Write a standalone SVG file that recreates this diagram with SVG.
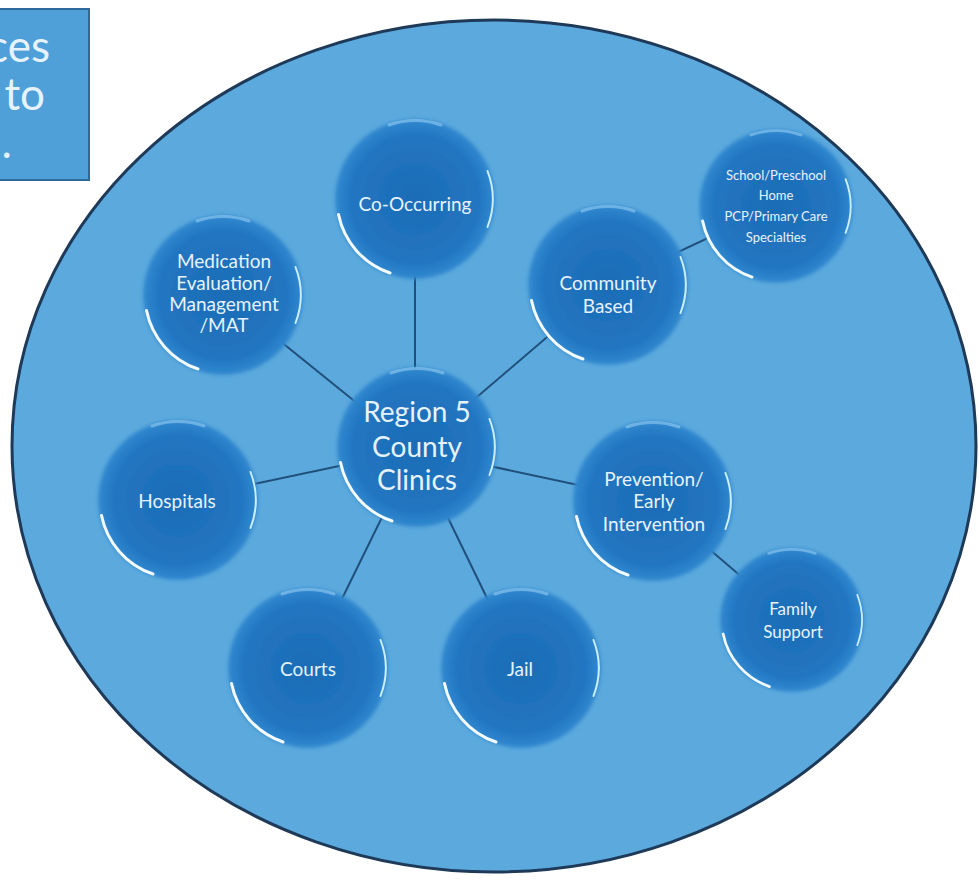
<svg xmlns="http://www.w3.org/2000/svg" xmlns:xlink="http://www.w3.org/1999/xlink" width="979" height="888" viewBox="0 0 979 888">
  <style>
    .lbl { font-family: Lato, "Open Sans", "Liberation Sans", sans-serif; fill: #e6f3ff; text-anchor: middle; }
    .big { font-size: 28px; }
    .mid { font-size: 19px; }
    .fam { font-size: 17px; }
    .small { font-size: 13px; }
    .conn { stroke: #1f4f7a; stroke-width: 2; fill: none; }
  </style>
  <defs>
    <radialGradient id="diskFill" cx="0.5" cy="0.5" r="0.5">
      <stop offset="0" stop-color="#1d6cb6"/>
      <stop offset="0.8" stop-color="#2175c0"/>
      <stop offset="1" stop-color="#3088cf"/>
    </radialGradient>
    <filter id="soft" x="-20%" y="-20%" width="140%" height="140%">
      <feGaussianBlur stdDeviation="1.6"/>
    </filter>
    <!-- bubble drawn at the origin with radius 80 -->
    <g id="bubble">
      <circle r="81" fill="#3d8fd0" opacity="0.5" filter="url(#soft)"/>
      <circle r="79" fill="url(#diskFill)" filter="url(#soft)"/>
      <path d="M -76.5 15.5 A 78 78 0 0 0 -25 74" stroke="#f2fbff" stroke-width="3" fill="none" stroke-linecap="round"/>
      <path d="M 72.5 -28 A 78 78 0 0 1 72.5 28" stroke="#c9efff" stroke-width="2" fill="none" stroke-linecap="round"/>
      <path d="M -26 -74 A 79 79 0 0 1 26 -74" stroke="#8fcaf2" stroke-width="3" fill="none" opacity="0.6" stroke-linecap="round"/>
    </g>
  </defs>

  <rect width="979" height="888" fill="#ffffff"/>

  <!-- partial title box at the top-left corner -->
  <g id="title-box">
    <rect x="-4" y="9" width="93" height="171" fill="#4f9fd8" stroke="#2d6a9a" stroke-width="2"/>
    <text class="lbl" x="0" y="62" style="font-size:44px;text-anchor:end" dx="50">ces</text>
    <text class="lbl" x="0" y="110" style="font-size:44px;text-anchor:end" dx="45">to</text>
    <text class="lbl" x="0" y="158" style="font-size:44px;text-anchor:end" dx="12">.</text>
  </g>

  <!-- large background ellipse -->
  <g id="region">
    <ellipse cx="494" cy="446" rx="482" ry="426" fill="#5ba9dd" stroke="#1e3a58" stroke-width="3"/>
  </g>

  <g id="connectors">
    <line class="conn" x1="415" y1="450" x2="415" y2="200"/>
    <line class="conn" x1="415" y1="450" x2="608" y2="285"/>
    <line class="conn" x1="415" y1="450" x2="223" y2="295"/>
    <line class="conn" x1="415" y1="450" x2="178" y2="500"/>
    <line class="conn" x1="415" y1="450" x2="653" y2="501"/>
    <line class="conn" x1="415" y1="450" x2="308" y2="668"/>
    <line class="conn" x1="415" y1="450" x2="521" y2="668"/>
    <line class="conn" x1="608" y1="285" x2="776" y2="206"/>
    <line class="conn" x1="653" y1="501" x2="792" y2="620"/>
  </g>

  <g id="node-co-occurring">
    <use xlink:href="#bubble" transform="translate(415,199)"/>
    <text class="lbl mid" x="415" y="211">Co-Occurring</text>
  </g>

  <g id="node-community">
    <use xlink:href="#bubble" transform="translate(608,285)"/>
    <text class="lbl mid" x="608" y="290">Community</text>
    <text class="lbl mid" x="608" y="313">Based</text>
  </g>

  <g id="node-school">
    <use xlink:href="#bubble" transform="translate(776,206) scale(0.96)"/>
    <text class="lbl small" x="776" y="180">School/Preschool</text>
    <text class="lbl small" x="776" y="200">Home</text>
    <text class="lbl small" x="776" y="221">PCP/Primary Care</text>
    <text class="lbl small" x="776" y="242">Specialties</text>
  </g>

  <g id="node-medication">
    <use xlink:href="#bubble" transform="translate(223,295)"/>
    <text class="lbl mid" x="224" y="268">Medication</text>
    <text class="lbl mid" x="224" y="290">Evaluation/</text>
    <text class="lbl mid" x="224" y="311">Management</text>
    <text class="lbl mid" x="224" y="332">/MAT</text>
  </g>

  <g id="node-center">
    <use xlink:href="#bubble" transform="translate(417,447)"/>
    <text class="lbl big" x="417" y="422">Region 5</text>
    <text class="lbl big" x="417" y="457">County</text>
    <text class="lbl big" x="417" y="490">Clinics</text>
  </g>

  <g id="node-hospitals">
    <use xlink:href="#bubble" transform="translate(178,500)"/>
    <text class="lbl mid" x="177" y="508">Hospitals</text>
  </g>

  <g id="node-prevention">
    <use xlink:href="#bubble" transform="translate(653,501)"/>
    <text class="lbl mid" x="654" y="486">Prevention/</text>
    <text class="lbl mid" x="654" y="508">Early</text>
    <text class="lbl mid" x="654" y="531">Intervention</text>
  </g>

  <g id="node-family">
    <use xlink:href="#bubble" transform="translate(792,620) scale(0.9)"/>
    <text class="lbl fam" x="793" y="615">Family</text>
    <text class="lbl fam" x="793" y="638">Support</text>
  </g>

  <g id="node-courts">
    <use xlink:href="#bubble" transform="translate(308,668)"/>
    <text class="lbl mid" x="308" y="676">Courts</text>
  </g>

  <g id="node-jail">
    <use xlink:href="#bubble" transform="translate(521,668)"/>
    <text class="lbl mid" x="520" y="676">Jail</text>
  </g>
</svg>
